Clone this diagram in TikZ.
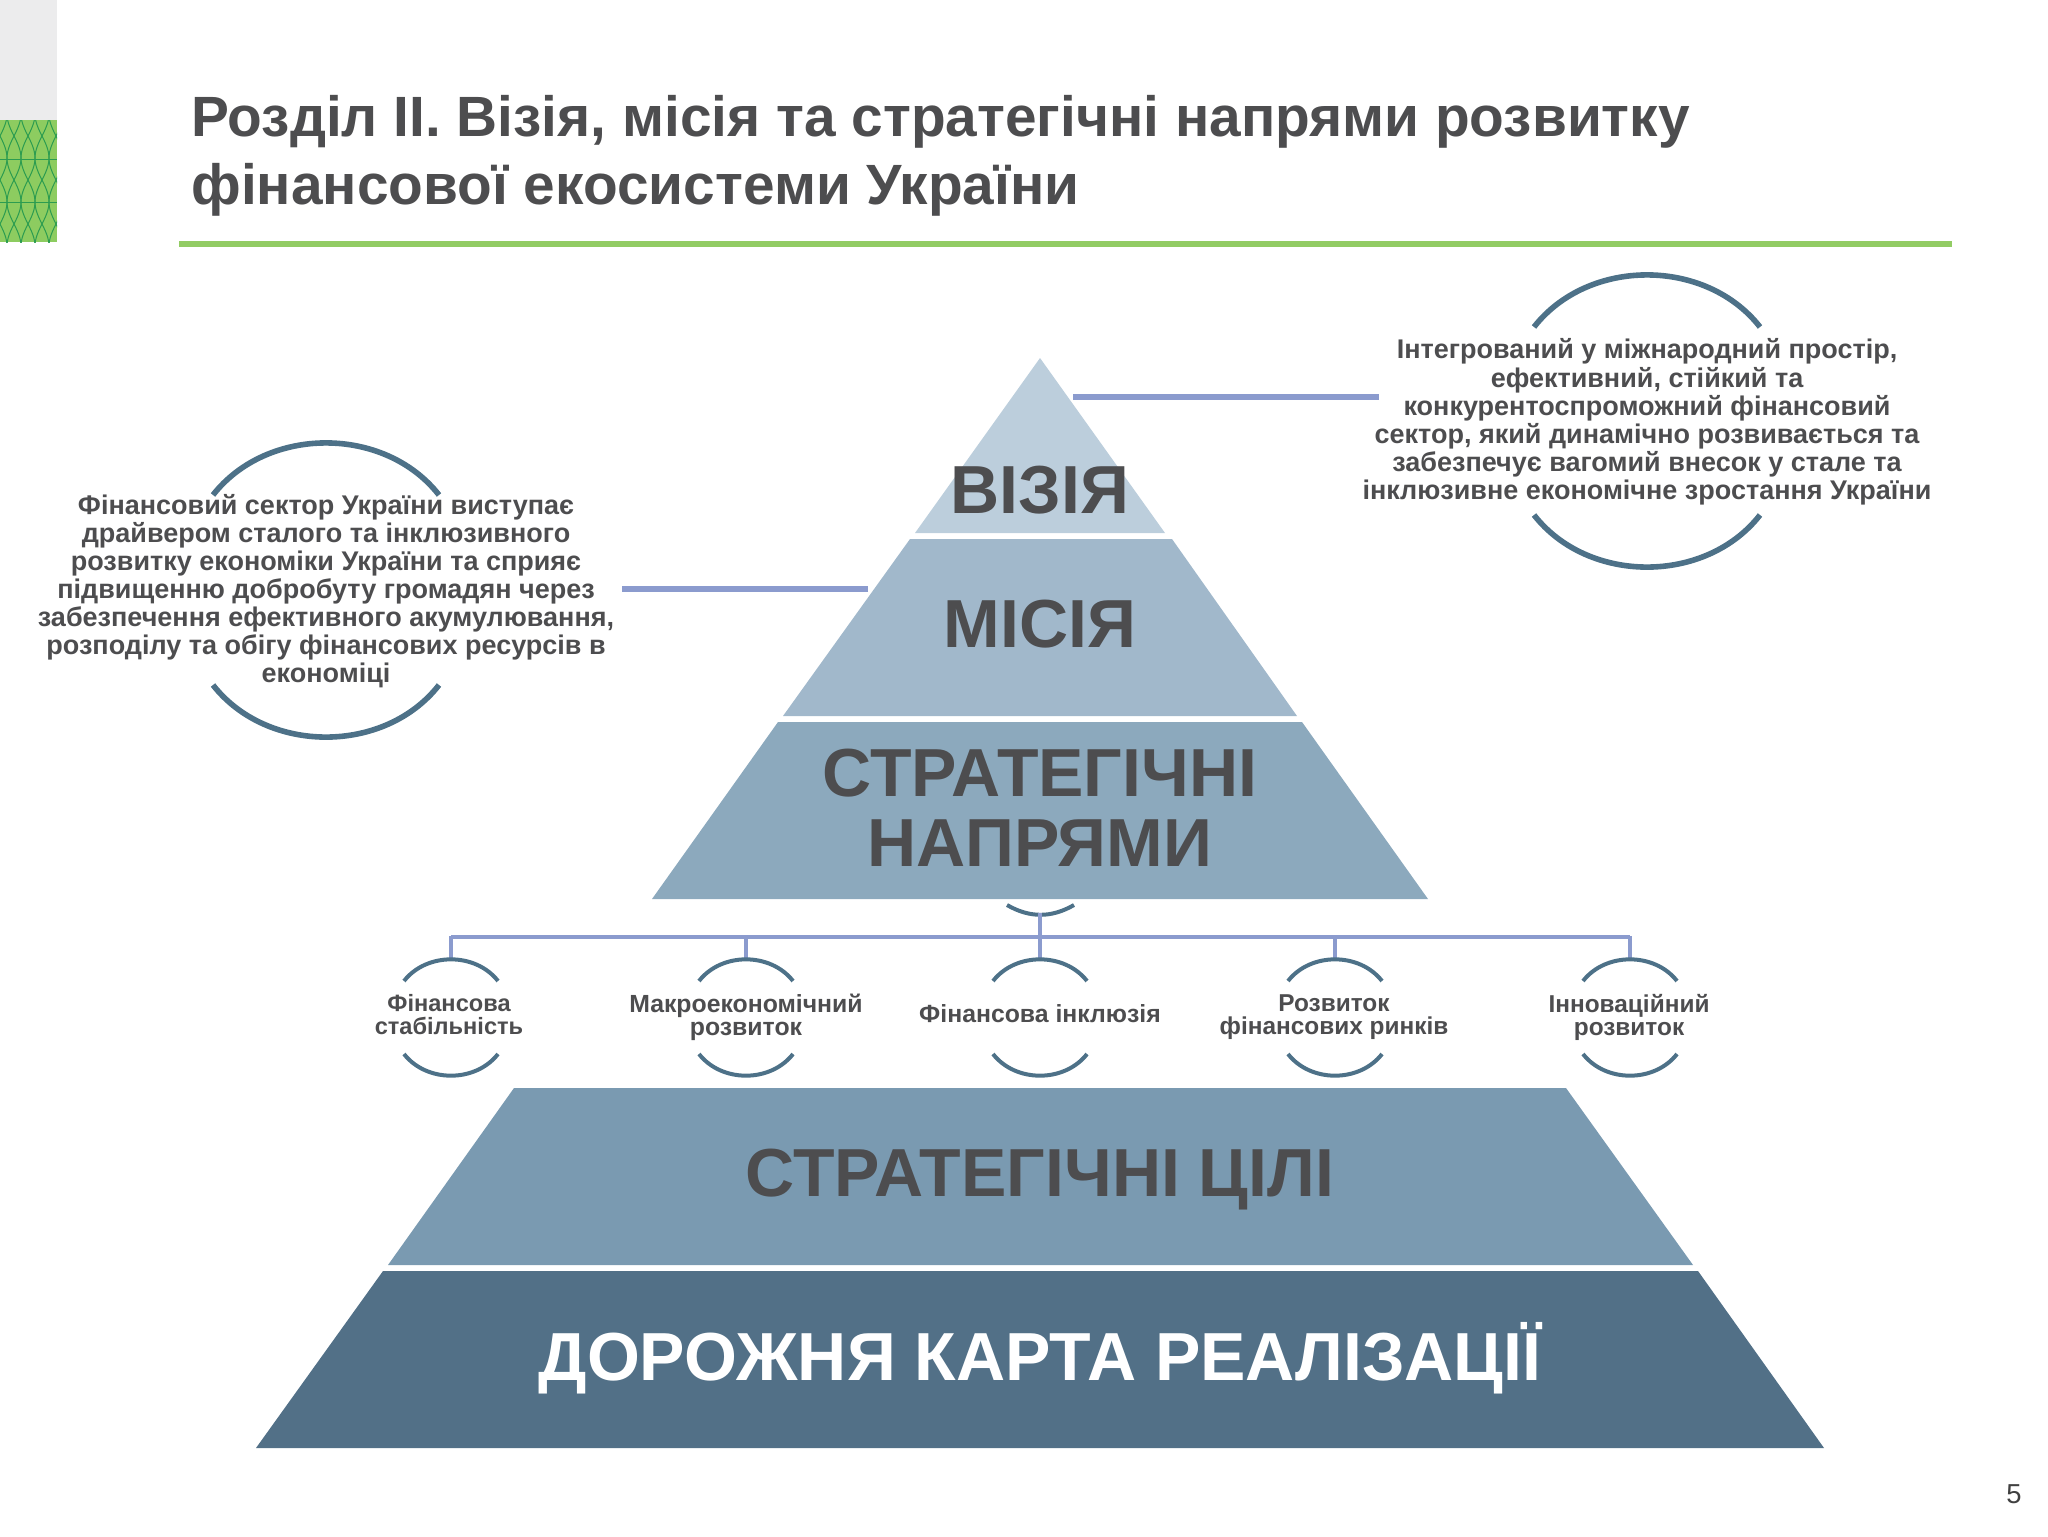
\documentclass[tikz,border=0pt]{standalone}
\usepackage{fontspec}
\setmainfont{Liberation Sans}
\definecolor{mytext}{RGB}{77,77,79}
\definecolor{mygreen}{RGB}{141,204,96}
\definecolor{mynet}{RGB}{44,156,80}
\definecolor{myrule}{RGB}{146,204,100}
\definecolor{mygrey}{RGB}{236,236,237}
\definecolor{mylink}{RGB}{139,155,206}
\definecolor{myarc}{RGB}{77,113,136}
\definecolor{levela}{RGB}{188,206,220}
\definecolor{levelb}{RGB}{161,184,203}
\definecolor{levelc}{RGB}{140,169,189}
\definecolor{leveld}{RGB}{122,154,177}
\definecolor{levele}{RGB}{82,112,135}
\usetikzlibrary{positioning,calc}

\begin{document}
\begin{tikzpicture}[x=0.5pt,y=-0.5pt,
  every node/.style={inner sep=0pt,text=mytext,align=center},
  titlenode/.style={font=\fontsize{28.4}{34}\selectfont\bfseries,align=left},
  levelnode/.style={font=\fontsize{34}{35}\selectfont\bfseries},
  bignode/.style={font=\fontsize{13.5}{14.05}\selectfont\bfseries},
  smallnode/.style={font=\fontsize{12.4}{11.5}\selectfont\bfseries},
  linkline/.style={draw=mylink,line width=3pt},
  treeline/.style={draw=mylink,line width=2.3pt},
  arcline/.style={draw=myarc,line width=2.8pt},
  smallarc/.style={draw=myarc,line width=2pt},
  netline/.style={draw=mynet,line width=0.5pt}
  ]
  \path[use as bounding box] (0,0) rectangle (2048,1536);

  % the corner strip
  \fill[mygrey] (0,0) rectangle (57,120);
  \begin{scope}
  \clip (0,120) rectangle (57,242);
  \fill[mygreen] (0,120) rectangle (57,242);
  \foreach \k in {0,1,...,4} {
    \draw[netline] plot[domain=114:248,samples=40,smooth,variable=\t]
      ({14*\k+7*cos(180*(\t-158)/44)},\t);
    \draw[netline] plot[domain=114:248,samples=40,smooth,variable=\t]
      ({14*\k-7*cos(180*(\t-158)/44)},\t);
  }
  \draw[netline] (0,159) -- (57,159);
  \draw[netline] (0,202) -- (57,202);
  \end{scope}

  % the title
  \node[titlenode,anchor=north west] (title) at (191,94.5)
    {Розділ ІІ. Візія, місія та стратегічні напрями розвитку\\фінансової екосистеми України};
  \fill[myrule] (179,241) rectangle (1952,247);

  % the levels of the pyramid
  \fill[levela] (1040,358) -- (1165,533) -- (915,533) -- cycle;
  \fill[levelb] (910,539) -- (1172,539) -- (1297,716) -- (783,716) -- cycle;
  \fill[levelc] (778,722) -- (1302,722) -- (1428,899) -- (652,899) -- cycle;
  \fill[leveld] (514,1088) -- (1566,1088) -- (1693,1265) -- (388,1265) -- cycle;
  \fill[levele] (383,1271) -- (1698,1271) -- (1824,1448) -- (256,1448) -- cycle;

  \node[levelnode] (vision) at (1040,490) {ВІЗІЯ};
  \node[levelnode] (mission) at (1040,624) {МІСІЯ};
  \node[levelnode] (directions) at (1040,808) {СТРАТЕГІЧНІ\\НАПРЯМИ};
  \node[levelnode] (goals) at (1040,1180) {СТРАТЕГІЧНІ ЦІЛІ};
  \node[levelnode,text=white] (roadmap) at (1040,1358) {ДОРОЖНЯ КАРТА РЕАЛІЗАЦІЇ};

  % the two big circles
  \draw[arcline] (1534,327) to[bend left=52] (1760,327);
  \draw[arcline] (1534,515) to[bend right=52] (1760,515);
  \draw[arcline] (213,495) to[bend left=52] (439,495);
  \draw[arcline] (213,685) to[bend right=52] (439,685);

  \node[bignode] (visiontext) at (1647,422) {Інтегрований у міжнародний простір,\\
    ефективний, стійкий та\\конкурентоспроможний фінансовий\\
    сектор, який динамічно розвивається та\\забезпечує вагомий внесок у стале та\\
    інклюзивне економічне зростання України};
  \node[bignode] (missiontext) at (326,591) {Фінансовий сектор України виступає\\
    драйвером сталого та інклюзивного\\розвитку економіки України та сприяє\\
    підвищенню добробуту громадян через\\забезпечення ефективного акумулювання,\\
    розподілу та обігу фінансових ресурсів в\\економіці};

  % the links to the two texts
  \coordinate (visionend) at (1073,397);
  \coordinate (visionstart) at (1379,397);
  \coordinate (missionend) at (868,589);
  \coordinate (missionstart) at (622,589);
  \draw[linkline] (visionend) -- (visionstart);
  \draw[linkline] (missionend) -- (missionstart);

  % the tree of directions
  \coordinate (stem) at (1040,913);
  \coordinate (busl) at (451,937);
  \coordinate (busm) at (1040,937);
  \coordinate (busr) at (1630,937);
  \draw[smallarc] (1007,905) to[bend right=30] (1074,905);
  \draw[treeline] (busl) -- (busr);
  \draw[treeline] (stem) -- (busm);

  \foreach \i/\cx in {1/451,2/746,3/1040,4/1335,5/1630} {
    \coordinate (bus\i) at (\cx,936);
    \coordinate (top\i) at (\cx,958);
    \draw[treeline] (bus\i) -- (top\i);
    \draw[smallarc] ({\cx-47},981) to[bend left=52] ({\cx+47},981);
    \draw[smallarc] ({\cx-47},1054) to[bend right=52] ({\cx+47},1054);
  }

  % the five directions
  \node[smallnode,font=\fontsize{11.8}{11.5}\selectfont\bfseries] (dir1) at (449,1015) {Фінансова\\стабільність};
  \node[smallnode] (dir2) at (746,1017) {Макроекономічний\\розвиток};
  \node[smallnode] (dir3) at (1040,1014) {Фінансова інклюзія};
  \node[smallnode,font=\fontsize{12.2}{11.5}\selectfont\bfseries] (dir4) at (1334,1017) {Розвиток\\фінансових ринків};
  \node[smallnode,font=\fontsize{12.2}{11.5}\selectfont\bfseries] (dir5) at (1629,1017) {Інноваційний\\розвиток};

  % the page number
  \node[font=\fontsize{13.7}{14}\selectfont,text=black!75] (page) at (2014,1494) {5};
\end{tikzpicture}
\end{document}
